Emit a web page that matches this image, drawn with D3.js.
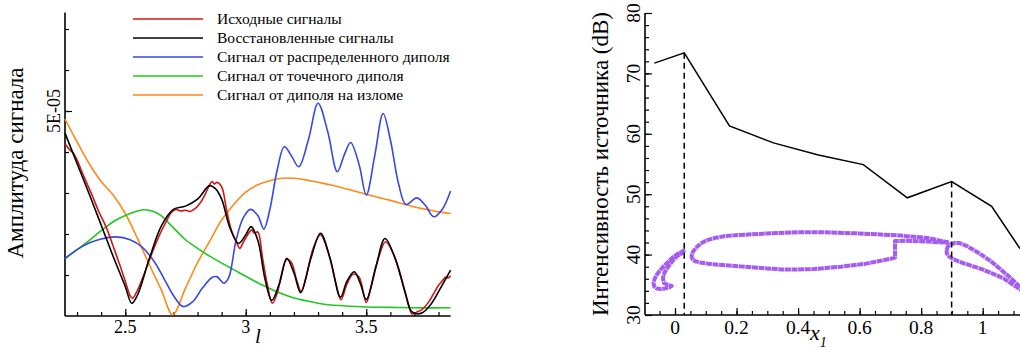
<!DOCTYPE html>
<html>
<head>
<meta charset="utf-8">
<script src="https://cdn.jsdelivr.net/npm/d3@7"></script>
<style>
  html, body { margin: 0; padding: 0; background: #fff; }
  svg { display: block; }
</style>
</head>
<body>
<svg id="fig" width="1020" height="351"></svg>
<script>
// ---------- Left panel: signal amplitudes (units of 1E-05) ----------
const AMP_UNIT = 1e-5;

const srcL   = [2.25,2.27,2.285,2.30,2.33,2.36,2.39,2.42,2.45,2.48,2.50,2.52,2.53,2.55,2.58,2.61,2.64,2.67,2.69,2.71,2.73,2.75,2.77,2.79,2.81,2.83,2.85,2.86,2.87,2.88,2.90,2.92,2.94,2.96,2.975,2.99,3.01,3.025,3.035,3.05,3.07,3.09,3.11,3.13,3.15,3.17,3.19,3.21,3.23,3.25,3.28,3.31,3.34,3.37,3.395,3.42,3.445,3.47,3.50,3.52,3.55,3.58,3.61,3.64,3.67,3.69,3.71,3.73,3.76,3.78,3.80,3.815,3.83,3.84,3.85];
const srcAmp = [4.20,4.05,3.97,3.80,3.38,2.98,2.55,2.18,1.70,1.20,0.85,0.50,0.43,0.62,1.05,1.52,1.95,2.30,2.52,2.60,2.56,2.58,2.55,2.62,2.75,2.95,3.20,3.28,3.22,3.26,3.15,2.60,2.10,1.82,1.65,1.80,2.00,2.10,2.02,2.05,1.40,0.75,0.31,0.55,1.05,1.38,1.30,0.90,0.60,0.95,1.65,1.98,1.60,0.90,0.40,0.78,1.02,0.95,0.33,0.70,1.40,1.81,1.55,1.05,0.40,0.05,0.10,0.15,0.35,0.55,0.75,0.85,0.95,0.93,0.98];

const recL   = [2.25,2.30,2.35,2.40,2.45,2.50,2.527,2.55,2.60,2.65,2.70,2.75,2.80,2.85,2.875,2.90,2.935,2.97,3.00,3.022,3.05,3.08,3.108,3.14,3.17,3.20,3.228,3.27,3.31,3.35,3.393,3.42,3.45,3.475,3.50,3.54,3.578,3.62,3.66,3.69,3.73,3.77,3.81,3.85];
const recAmp = [4.46,3.72,2.98,2.22,1.45,0.72,0.31,0.50,1.40,2.20,2.60,2.68,2.85,3.18,3.10,2.85,2.14,1.77,1.98,2.18,1.85,0.90,0.38,0.80,1.41,1.05,0.57,1.40,2.02,1.40,0.46,0.85,1.08,0.80,0.40,1.20,1.89,1.40,0.60,0.10,0.07,0.30,0.70,1.12];

const distL   = [2.25,2.30,2.35,2.40,2.46,2.52,2.57,2.62,2.66,2.70,2.74,2.78,2.82,2.86,2.88,2.91,2.93,2.96,2.99,3.02,3.05,3.075,3.10,3.13,3.16,3.19,3.22,3.26,3.30,3.34,3.38,3.41,3.435,3.47,3.50,3.535,3.57,3.60,3.635,3.665,3.71,3.745,3.78,3.815,3.85];
const distAmp = [1.40,1.62,1.78,1.88,1.93,1.86,1.68,1.33,0.92,0.50,0.23,0.35,0.68,0.94,0.96,0.80,0.95,1.85,2.40,2.60,2.45,2.12,2.60,3.55,4.13,3.90,3.64,4.30,5.19,4.50,3.52,3.95,4.23,3.70,2.95,3.90,4.94,4.30,3.20,2.72,2.88,2.70,2.42,2.60,3.05];

const pointL   = [2.25,2.30,2.35,2.40,2.45,2.50,2.55,2.58,2.62,2.65,2.70,2.75,2.80,2.85,2.90,2.95,3.00,3.05,3.10,3.15,3.20,3.25,3.30,3.35,3.40,3.50,3.60,3.70,3.85];
const pointAmp = [1.40,1.62,1.84,2.08,2.30,2.45,2.56,2.59,2.54,2.44,2.15,1.86,1.65,1.46,1.29,1.13,0.97,0.81,0.67,0.54,0.44,0.37,0.31,0.27,0.25,0.22,0.21,0.20,0.20];

const kinkL   = [2.25,2.30,2.35,2.40,2.45,2.50,2.55,2.60,2.65,2.697,2.75,2.80,2.85,2.90,2.95,3.00,3.05,3.10,3.15,3.20,3.25,3.30,3.35,3.40,3.45,3.50,3.55,3.60,3.65,3.70,3.75,3.80,3.85];
const kinkAmp = [4.80,4.25,3.72,3.28,2.95,2.50,1.90,1.25,0.63,0.03,0.68,1.30,1.82,2.34,2.72,3.02,3.20,3.30,3.36,3.36,3.32,3.26,3.20,3.13,3.05,2.97,2.89,2.82,2.74,2.66,2.60,2.54,2.50];

const seriesNames  = ["Исходные сигналы", "Восстановленные сигналы", "Сигнал от распределенного диполя", "Сигнал от точечного диполя", "Сигнал от диполя на изломе"];
const seriesColors = ["#d01818", "#000000", "#3848e0", "#22c822", "#ff8a1c"];

const leftXTicks = [2.5, 3, 3.5];
const leftXTickLabels = ["2.5", "3", "3.5"];
const leftYTickValue = 5e-5;
const leftYTickLabel = "5E-05";

// ---------- Right panel: source intensity along the chord ----------
const chordX    = [-0.067, 0.03, 0.177, 0.32, 0.466, 0.612, 0.755, 0.899, 1.029, 1.121];
const intensity = [71.7, 73.4, 61.3, 58.5, 56.5, 54.9, 49.4, 52.1, 48.0, 41.0];
const markedX   = [0.03, 0.899];

// airfoil contour drawn in the same axes (x, dB)
const slatOutline = [[0.033,40.75],[0.015,40.3],[-0.005,39.65],[-0.022,38.8],[-0.038,38.0],[-0.05,37.3],[-0.06,36.6],[-0.067,35.9],[-0.07,35.25],[-0.067,34.7],[-0.06,34.4],[-0.045,34.3],[-0.0325,34.4],[-0.018,34.6],[-0.011,34.8],[-0.025,35.0],[-0.036,35.3],[-0.039,35.9],[-0.038,36.6],[-0.031,37.3],[-0.022,38.0],[-0.009,38.9],[0.005,39.65],[0.018,40.1],[0.03,40.5]];
const mainOutline = [[0.89,42.0],[0.82,42.75],[0.72,43.2],[0.60,43.5],[0.49,43.7],[0.40,43.7],[0.30,43.5],[0.21,43.25],[0.16,43.05],[0.125,42.7],[0.1,42.3],[0.083,41.8],[0.07,41.2],[0.06,40.6],[0.055,40.1],[0.054,39.65],[0.057,39.2],[0.066,38.9],[0.081,38.7],[0.12,38.4],[0.21,38.05],[0.30,37.7],[0.35,37.55],[0.40,37.55],[0.45,37.6],[0.54,38.0],[0.62,38.5],[0.70,39.3],[0.715,39.5],[0.715,42.25],[0.75,42.3],[0.82,42.15],[0.89,41.95]];
const flapOutline = [[0.883,40.76],[0.886,41.3],[0.895,41.7],[0.91,41.92],[0.925,41.9],[0.945,41.5],[0.97,40.8],[0.995,40.0],[1.024,39.0],[1.055,37.7],[1.089,36.2],[1.12,34.7],[1.145,33.4],[1.12,34.3],[1.067,36.1],[1.002,37.5],[0.937,38.6],[0.905,39.2],[0.89,39.7],[0.883,40.2],[0.883,40.76]];

const rightXTicks = [0, 0.2, 0.4, 0.6, 0.8, 1];
const rightXTickLabels = ["0", "0.2", "0.4", "0.6", "0.8", "1"];
const rightYTicks = [30, 40, 50, 60, 70, 80];

// ---------- drawing ----------
const FONT = '"Liberation Serif"';
const svg = d3.select("#fig");

function innerAxis(g, axis) {
  g.call(axis);
  g.select(".domain").remove();
  g.selectAll(".tick line").attr("stroke", "#000").attr("stroke-width", 1.2);
  g.selectAll(".tick text").remove();
}

// Left panel scales
const xL = d3.scaleLinear().domain([2.25, 3.85]).range([65, 450.6]);
const yL = d3.scaleLinear().domain([0, 7.4e-5]).range([316, 12.6]);

const left = svg.append("g");

// ticks (pointing inward)
left.append("g").attr("transform", `translate(0,${yL(0)})`)
  .call(g => innerAxis(g, d3.axisBottom(xL).tickValues(d3.range(2.3, 3.85, 0.1)).tickSize(-4)));
left.append("g").attr("transform", `translate(0,${yL(0)})`)
  .call(g => innerAxis(g, d3.axisBottom(xL).tickValues(leftXTicks).tickSize(-7)));
left.append("g").attr("transform", `translate(${xL.range()[0]},0)`)
  .call(g => innerAxis(g, d3.axisLeft(yL).tickValues(d3.range(1, 8).map(v => v * AMP_UNIT)).tickSize(-4)));
left.append("g").attr("transform", `translate(${xL.range()[0]},0)`)
  .call(g => innerAxis(g, d3.axisLeft(yL).tickValues([leftYTickValue]).tickSize(-7)));

// axis lines
left.append("line").attr("x1", xL.range()[0]).attr("x2", xL.range()[0])
  .attr("y1", yL.range()[1]).attr("y2", yL.range()[0]).attr("stroke", "#000").attr("stroke-width", 1.6);
left.append("line").attr("x1", xL.range()[0]).attr("x2", xL.range()[1])
  .attr("y1", yL(0)).attr("y2", yL(0)).attr("stroke", "#000").attr("stroke-width", 1.6);

// tick labels
left.selectAll("text.xt").data(leftXTicks).enter().append("text")
  .attr("x", d => xL(d)).attr("y", 333).attr("text-anchor", "middle")
  .attr("font-size", 18).text((d, i) => leftXTickLabels[i]);
left.append("text")
  .attr("transform", `translate(60,${yL(leftYTickValue)}) rotate(-90)`)
  .attr("text-anchor", "middle").attr("font-size", 18).text(leftYTickLabel);

// axis titles
left.append("text").attr("x", 255).attr("y", 343)
  .attr("font-size", 21).attr("font-style", "italic").text("l");
left.append("text").attr("transform", "translate(23,163) rotate(-90)")
  .attr("text-anchor", "middle").attr("font-size", 23).text("Амплитуда сигнала");

// curves
const ampLine = d3.line()
  .x(d => xL(d[0])).y(d => yL(d[1] * AMP_UNIT))
  .curve(d3.curveCatmullRom.alpha(0.5));
const curves = [
  d3.zip(srcL, srcAmp),
  d3.zip(recL, recAmp),
  d3.zip(distL, distAmp),
  d3.zip(pointL, pointAmp),
  d3.zip(kinkL, kinkAmp)
];
const drawOrder = [4, 3, 2, 0, 1];
drawOrder.forEach(i => {
  left.append("path").datum(curves[i]).attr("d", ampLine)
    .attr("fill", "none").attr("stroke", seriesColors[i]).attr("stroke-width", 1.6);
});

// legend
const legend = left.append("g");
seriesNames.forEach((name, i) => {
  const y = 19 + i * 19;
  legend.append("line").attr("x1", 133).attr("x2", 203).attr("y1", y).attr("y2", y)
    .attr("stroke", seriesColors[i]).attr("stroke-width", 1.6);
  legend.append("text").attr("x", 217).attr("y", y + 5)
    .attr("font-size", 15.5).text(name);
});

// Right panel scales
const xR = d3.scaleLinear().domain([-0.0975, 1.2]).range([645, 645 + 1.2975 * 307.7]);
const yR = d3.scaleLinear().domain([30, 80]).range([315, 13]);

const right = svg.append("g");

right.append("g").attr("transform", `translate(0,${yR(30)})`)
  .call(g => innerAxis(g, d3.axisBottom(xR).tickValues(d3.range(-0.05, 1.2, 0.05)).tickSize(-4)));
right.append("g").attr("transform", `translate(0,${yR(30)})`)
  .call(g => innerAxis(g, d3.axisBottom(xR).tickValues(rightXTicks).tickSize(-7)));
right.append("g").attr("transform", `translate(${xR.range()[0]},0)`)
  .call(g => innerAxis(g, d3.axisLeft(yR).tickValues(d3.range(32, 80, 2)).tickSize(-4)));
right.append("g").attr("transform", `translate(${xR.range()[0]},0)`)
  .call(g => innerAxis(g, d3.axisLeft(yR).tickValues(rightYTicks).tickSize(-7)));

right.append("line").attr("x1", xR.range()[0]).attr("x2", xR.range()[0])
  .attr("y1", yR(80)).attr("y2", yR(30)).attr("stroke", "#000").attr("stroke-width", 1.6);
right.append("line").attr("x1", xR.range()[0]).attr("x2", xR.range()[1])
  .attr("y1", yR(30)).attr("y2", yR(30)).attr("stroke", "#000").attr("stroke-width", 1.6);

right.selectAll("text.xt").data(rightXTicks).enter().append("text")
  .attr("x", d => xR(d)).attr("y", 334).attr("text-anchor", "middle")
  .attr("font-size", 19.5).text((d, i) => rightXTickLabels[i]);
right.selectAll("text.yt").data(rightYTicks).enter().append("text")
  .attr("transform", d => `translate(640,${yR(d)}) rotate(-90)`)
  .attr("text-anchor", "middle").attr("font-size", 19.5).text(d => d);

const xTitle = right.append("text").attr("x", 810).attr("y", 340)
  .attr("font-size", 22).attr("font-style", "italic");
xTitle.append("tspan").text("x");
xTitle.append("tspan").attr("dy", 7).attr("font-size", 14).text("1");

right.append("text").attr("transform", "translate(608,164) rotate(-90)")
  .attr("text-anchor", "middle").attr("font-size", 23).text("Интенсивность источника (dB)");

// airfoil contour
const contour = d3.line().x(d => xR(d[0])).y(d => yR(d[1]));
[slatOutline, mainOutline, flapOutline].forEach(pts => {
  right.append("path").datum(pts).attr("d", contour)
    .attr("fill", "none").attr("stroke", "#a65cf0").attr("stroke-width", 4)
    .attr("stroke-dasharray", "6,0.6").attr("stroke-linejoin", "round");
});

// dashed markers from peaks down to the axis
right.selectAll("line.mark").data(markedX).enter().append("line")
  .attr("x1", d => xR(d)).attr("x2", d => xR(d))
  .attr("y1", d => yR(intensity[chordX.indexOf(d)])).attr("y2", yR(30))
  .attr("stroke", "#000").attr("stroke-width", 1.5).attr("stroke-dasharray", "6,4");

// intensity line
right.append("path").datum(d3.zip(chordX, intensity))
  .attr("d", d3.line().x(d => xR(d[0])).y(d => yR(d[1])))
  .attr("fill", "none").attr("stroke", "#000").attr("stroke-width", 1.5);

// serif typeface for every label
svg.selectAll("text").style("font-family", FONT).style("fill", "#000");
</script>
</body>
</html>
